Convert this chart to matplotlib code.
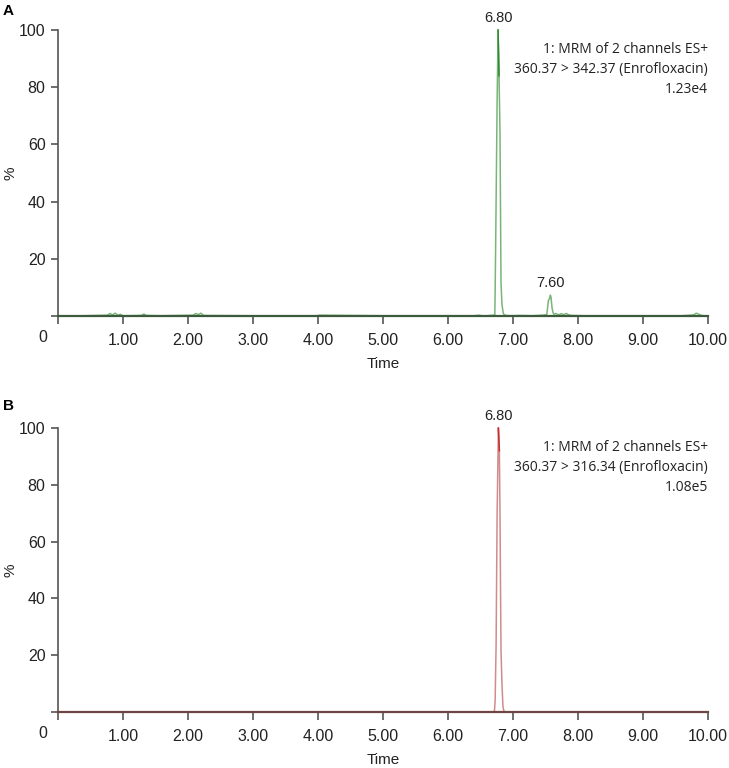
import numpy as np
import matplotlib.pyplot as plt

plt.rcParams['font.family'] = ['Liberation Sans', 'DejaVu Sans']

# Cromatograma A: 360.37 > 342.37
time_a = [0.00, 0.40, 0.76, 0.80, 0.84, 0.88, 0.92, 0.96, 1.00, 1.28, 1.32, 1.36, 1.60,
          2.08, 2.12, 2.16, 2.20, 2.24, 3.00, 3.98, 4.02, 5.00, 6.40, 6.48, 6.52, 6.60,
          6.70, 6.72, 6.725, 6.74, 6.755, 6.77, 6.785, 6.80, 6.815, 6.83, 6.85, 6.87,
          6.95, 7.10, 7.30, 7.45, 7.52, 7.545, 7.56, 7.575, 7.585, 7.60, 7.615, 7.63,
          7.66, 7.70, 7.74, 7.78, 7.82, 7.86, 7.90, 8.10, 8.60, 9.20, 9.60, 9.78, 9.82,
          9.86, 9.90, 10.00]
pct_a = [0.0, 0.1, 0.3, 0.9, 0.4, 1.0, 0.3, 0.6, 0.1, 0.2, 0.7, 0.2, 0.1,
         0.3, 0.9, 0.5, 1.0, 0.2, 0.1, 0.1, 0.3, 0.1, 0.1, 0.3, 0.1, 0.1,
         0.3, 0.5, 8.0, 40.0, 74.0, 100.0, 84.0, 64.0, 12.0, 4.0, 1.0, 0.3,
         0.1, 0.2, 0.1, 0.3, 0.5, 5.5, 6.0, 7.3, 6.5, 3.0, 1.2, 0.6,
         0.9, 0.4, 0.8, 0.5, 0.9, 0.4, 0.2, 0.1, 0.1, 0.1, 0.1, 0.4, 1.0,
         0.6, 0.2, 0.0]

# Cromatograma B: 360.37 > 316.34
time_b = [0.00, 1.00, 2.00, 3.00, 4.00, 5.00, 6.00, 6.60, 6.70, 6.715, 6.725, 6.74,
          6.755, 6.775, 6.79, 6.80, 6.815, 6.83, 6.845, 6.86, 6.88, 7.00, 8.00, 9.00, 10.00]
pct_b = [0.0, 0.0, 0.0, 0.0, 0.0, 0.0, 0.0, 0.0, 0.1, 0.5, 4.0, 24.0,
         69.0, 100.0, 92.0, 69.0, 22.0, 10.0, 2.0, 0.3, 0.0, 0.0, 0.0, 0.0, 0.0]

xticks = [0, 1, 2, 3, 4, 5, 6, 7, 8, 9, 10]
xlabels = ['', '1.00', '2.00', '3.00', '4.00', '5.00', '6.00', '7.00', '8.00', '9.00', '10.00']
yticks = [0, 20, 40, 60, 80, 100]
ylabels = ['', '20', '40', '60', '80', '100']

peaks_a = [("6.80", 6.77, 100.0), ("7.60", 7.575, 7.3)]
peaks_b = [("6.80", 6.775, 100.0)]

info_a = "1: MRM of 2 channels ES+\n360.37 > 342.37 (Enrofloxacin)\n1.23e4"
info_b = "1: MRM of 2 channels ES+\n360.37 > 316.34 (Enrofloxacin)\n1.08e5"

fig = plt.figure(figsize=(7.29, 7.68), dpi=100)
axA = fig.add_axes([0.0796, 0.5885, 0.8916, 0.3725])
axB = fig.add_axes([0.0796, 0.0729, 0.8916, 0.3698])


def dibujar(ax, t, p, color_claro, color_oscuro, color_base, picos, info):
    ax.plot(t, p, color=color_claro, lw=1.1, clip_on=False, zorder=2)
    # tramo oscuro cerca del máximo
    i = p.index(100.0)
    ax.plot(t[i:i + 2], p[i:i + 2], color=color_oscuro, lw=1.1, clip_on=False, zorder=2.1)
    ax.set_xlim(0, 10)
    ax.set_ylim(0, 100)
    for s in ['top', 'right']:
        ax.spines[s].set_visible(False)
    ax.spines['left'].set_color('#555555')
    ax.spines['left'].set_linewidth(1.2)
    ax.spines['bottom'].set_color(color_base)
    ax.spines['bottom'].set_linewidth(1.6)
    ax.spines['bottom'].set_zorder(3)
    ax.set_xticks(xticks)
    ax.set_xticklabels(xlabels)
    ax.set_yticks(yticks)
    ax.set_yticklabels(ylabels)
    ax.tick_params(direction='out', length=5, width=1.2, color='#555555',
                   labelsize=11.5, labelcolor='#222222')
    ax.tick_params(axis='x', length=6, pad=6)
    ax.tick_params(axis='y', pad=4)
    ax.set_xlabel('Time', fontsize=11, color='#222222')
    ax.xaxis.set_label_coords(0.5, -0.143)
    ax.set_ylabel('%', fontsize=11, color='#222222')
    ax.yaxis.set_label_coords(-0.062, 0.5)
    # el "0" del eje y, en la esquina
    ax.annotate('0', xy=(0, 0), xytext=(-10.8, -15.8), textcoords='offset points',
                ha='center', va='center', fontsize=11.5, color='#222222')
    for txt, x, y in picos:
        ax.annotate(txt, xy=(x, y), xytext=(0, 8.6), textcoords='offset points',
                    ha='center', va='center', fontsize=10.5, color='#222222')
    ax.text(1.0, 0.958, info, transform=ax.transAxes, ha='right', va='top',
            multialignment='right', fontsize=10, linespacing=1.45,
            color='#222222', family=['Open Sans', 'DejaVu Sans'])


dibujar(axA, time_a, pct_a, '#79b579', '#2f8a2f', '#3d5a3d', peaks_a, info_a)
dibujar(axB, time_b, pct_b, '#d08c8c', '#cc2a2a', '#6e4444', peaks_b, info_b)

fig.text(0.004, 0.995, 'A', fontsize=11, fontweight='bold', va='top', ha='left')
fig.text(0.004, 0.481, 'B', fontsize=11, fontweight='bold', va='top', ha='left')

fig.savefig('out.png', dpi=100)
